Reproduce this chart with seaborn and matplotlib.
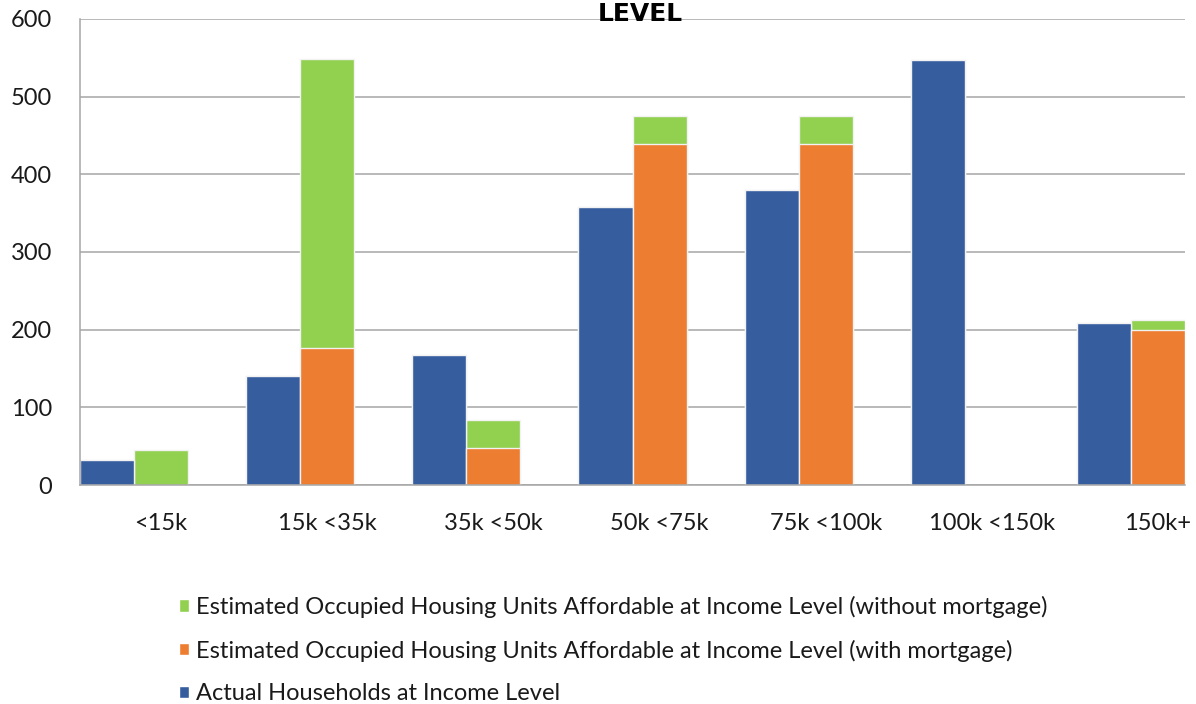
import numpy as np
import pandas as pd
import seaborn as sns
import matplotlib.pyplot as plt
from matplotlib.patches import Patch

categories = ["<15k", "15k <35k", "35k <50k", "50k <75k", "75k <100k", "100k <150k", "150k+"]
actual = [32, 140, 168, 358, 380, 547, 209]
with_mortgage = [0, 176, 47, 439, 439, 0, 199]
without_mortgage = [45, 373, 37, 36, 36, 0, 13]
yticks = [0, 100, 200, 300, 400, 500, 600]

label_actual = "Actual Households at Income Level"
label_with = "Estimated Occupied Housing Units Affordable at Income Level (with mortgage)"
label_without = "Estimated Occupied Housing Units Affordable at Income Level (without mortgage)"
title_text = "LEVEL"

BLUE = "#365E9F"
ORANGE = "#ED7D31"
GREEN = "#92D050"
GRID = "#A6A6A6"
TEXT = "#1A1A1A"

sns.set_theme(style="white")
plt.rcParams['font.family'] = ['Lato', 'DejaVu Sans']

W, H = 1196, 704
fig = plt.figure(figsize=(W / 100, H / 100), dpi=100)
ax = fig.add_axes([80 / W, 219 / H, 1105 / W, 466 / H])

total = [a + b for a, b in zip(with_mortgage, without_mortgage)]
hue_order = ["Actual", "Estimated", "pad"]
n = len(categories)

df_top = pd.DataFrame({
    "cat": categories * 3,
    "series": ["Actual"] * n + ["Estimated"] * n + ["pad"] * n,
    "value": actual + total + [0] * n,
})
df_bot = pd.DataFrame({
    "cat": categories * 3,
    "series": ["Actual"] * n + ["Estimated"] * n + ["pad"] * n,
    "value": actual + with_mortgage + [0] * n,
})

width = 0.976
sns.barplot(data=df_top, x="cat", y="value", hue="series", hue_order=hue_order,
            order=categories, palette=[BLUE, GREEN, "white"], width=width, saturation=1,
            edgecolor="#F2F2F2", linewidth=1.0, errorbar=None, legend=False, ax=ax)
sns.barplot(data=df_bot, x="cat", y="value", hue="series", hue_order=hue_order,
            order=categories, palette=[BLUE, ORANGE, "white"], width=width, saturation=1,
            edgecolor="#F2F2F2", linewidth=1.0, errorbar=None, legend=False, ax=ax)

for p in ax.patches:
    if p.get_height() == 0:
        p.set_visible(False)

ax.set_xlim(-width / 2, n - 1 + width / 6)
ax.set_ylim(0, 600)
ax.set_yticks(yticks)
ax.set_xlabel("")
ax.set_ylabel("")
ax.grid(axis="y", color=GRID, linewidth=1.1)
ax.grid(axis="x", visible=False)
ax.set_axisbelow(True)
for s in ["top", "right"]:
    ax.spines[s].set_visible(False)
for s in ["left", "bottom"]:
    ax.spines[s].set_color(GRID)
    ax.spines[s].set_linewidth(1.1)
ax.tick_params(axis="y", length=0, labelsize=17, pad=20, colors=TEXT)
ax.tick_params(axis="x", length=0, labelsize=17, pad=20, colors=TEXT)

handles = [Patch(facecolor=GREEN), Patch(facecolor=ORANGE), Patch(facecolor=BLUE)]
labels = [label_without, label_with, label_actual]
fig.legend(handles, labels, loc="upper left", bbox_to_anchor=(167 / W, 1 - 584 / H),
           frameon=False, fontsize=17, handlelength=0.42, handleheight=0.42,
           handletextpad=0.3, labelspacing=0.92, borderpad=0, labelcolor=TEXT)

fig.text(640 / W, 1 - 14 / H, title_text, ha="center", va="center", fontsize=18,
         fontweight="heavy", color="black", family=["DejaVu Sans"])

fig.savefig("out.png", dpi=100)
